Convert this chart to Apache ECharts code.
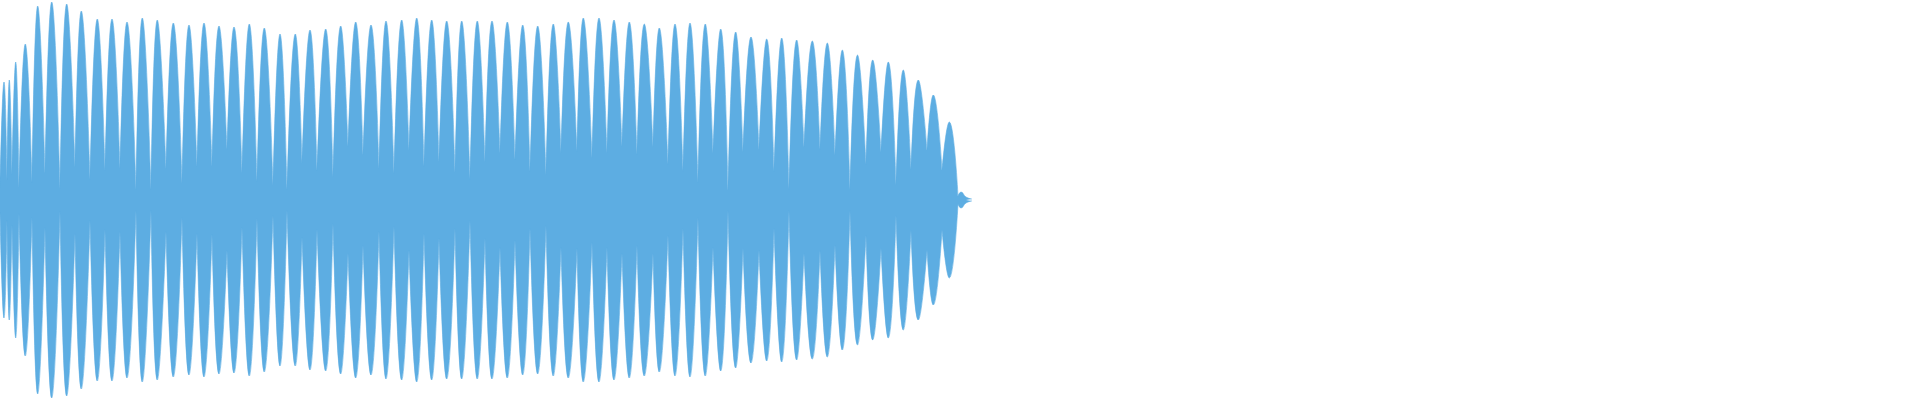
<!DOCTYPE html>
<html>
<head>
<meta charset="utf-8">
<script src="https://cdn.jsdelivr.net/npm/echarts@6/dist/echarts.min.js"></script>
<style>
html,body{margin:0;padding:0;background:#fff;}
#chart{width:1920px;height:400px;}
</style>
</head>
<body>
<div id="chart"></div>
<script>
// Beat-pattern waveform: envelope peaks (time, amplitude) and the troughs between them
const peakTime = [4, 9.3, 15.7, 25.3, 37.7, 51.7, 66.7, 81.3, 97.3, 112, 127, 142.3, 157.3, 173.3, 189, 204, 219, 234, 249.3, 264.3, 280, 295.3, 310, 325.7, 340.7, 355.7, 371, 386, 401.7, 416.7, 431.7, 446.7, 461.7, 477.3, 492, 507.3, 522.7, 537.7, 553.3, 568.3, 583.3, 599, 614, 629.3, 644.3, 659.3, 675, 690, 705.3, 720.7, 735.7, 751, 766.7, 781.7, 796.7, 812.3, 827.3, 842.3, 857.5, 872.7, 888.3, 903.3, 918.3, 933.3, 949.3];
const peakAmp = [0.59, 0.60, 0.69, 0.78, 0.97, 0.99, 0.98, 0.945, 0.905, 0.905, 0.89, 0.91, 0.90, 0.885, 0.875, 0.885, 0.87, 0.865, 0.88, 0.86, 0.83, 0.83, 0.85, 0.855, 0.87, 0.89, 0.875, 0.895, 0.90, 0.91, 0.90, 0.895, 0.895, 0.895, 0.895, 0.89, 0.875, 0.87, 0.88, 0.89, 0.91, 0.91, 0.90, 0.89, 0.88, 0.86, 0.88, 0.885, 0.88, 0.855, 0.84, 0.815, 0.805, 0.81, 0.80, 0.795, 0.785, 0.75, 0.725, 0.70, 0.69, 0.65, 0.60, 0.525, 0.39];
const troughTime = [0, 7, 12, 19, 32, 45, 60, 75, 90, 105, 120, 136, 151, 166, 182, 197, 212, 227, 242, 257, 273, 287, 302, 317, 333, 348, 363, 379, 394, 409, 424, 439, 455, 470, 485, 500, 515, 530, 546, 561, 577, 592, 607, 622, 637, 653, 668, 683, 698, 713, 728, 743, 759, 774, 789, 804, 820, 835, 850, 866, 881, 896, 911, 927, 942, 958];
const troughAmp = [0.06, 0.10, 0.125, 0.065, 0.085, 0.135, 0.055, 0.165, 0.10, 0.145, 0.155, 0.05, 0.05, 0.155, 0.085, 0.165, 0.17, 0.25, 0.135, 0.09, 0.075, 0.05, 0.185, 0.145, 0.115, 0.265, 0.225, 0.155, 0.13, 0.25, 0.165, 0.19, 0.14, 0.10, 0.19, 0.235, 0.20, 0.14, 0.125, 0.235, 0.24, 0.21, 0.235, 0.265, 0.225, 0.265, 0.175, 0.14, 0.085, 0.235, 0.05, 0.24, 0.25, 0.14, 0.05, 0.265, 0.25, 0.225, 0.05, 0.175, 0.24, 0.075, 0.15, 0.25, 0.15, 0.02];
const tailTime = [961, 966, 972];
const tailAmp = [0.04, 0.015, 0.005];

const COLOR = '#5dade2';

function buildEnvelope(sign) {
  const out = [];
  for (let i = 0; i < peakTime.length; i++) {
    out.push([troughTime[i], sign * troughAmp[i]]);
    out.push([peakTime[i], sign * peakAmp[i]]);
    out.push([troughTime[i + 1], sign * troughAmp[i + 1]]);
    out.push([troughTime[i + 1], '-']);
  }
  const last = troughTime.length - 1;
  out.push([troughTime[last], sign * troughAmp[last]]);
  for (let j = 0; j < tailTime.length; j++) out.push([tailTime[j], sign * tailAmp[j]]);
  return out;
}

function envSeries(name, sign) {
  return {
    name: name,
    type: 'line',
    data: buildEnvelope(sign),
    smooth: 0.5,
    connectNulls: false,
    showSymbol: false,
    symbol: 'none',
    lineStyle: { width: 0.6, color: COLOR },
    areaStyle: { color: COLOR, opacity: 1, origin: 0 },
    itemStyle: { color: COLOR },
    emphasis: { disabled: true },
    silent: true
  };
}

const chart = echarts.init(document.getElementById('chart'), null, { renderer: 'canvas' });
chart.setOption({
  animation: false,
  backgroundColor: '#ffffff',
  grid: { left: 0, right: 0, top: 0, bottom: 0, containLabel: false },
  xAxis: { type: 'value', min: 0, max: 1920, show: false },
  yAxis: { type: 'value', min: -1, max: 1, show: false },
  series: [envSeries('upper', 1), envSeries('lower', -1)]
});
</script>
</body>
</html>
